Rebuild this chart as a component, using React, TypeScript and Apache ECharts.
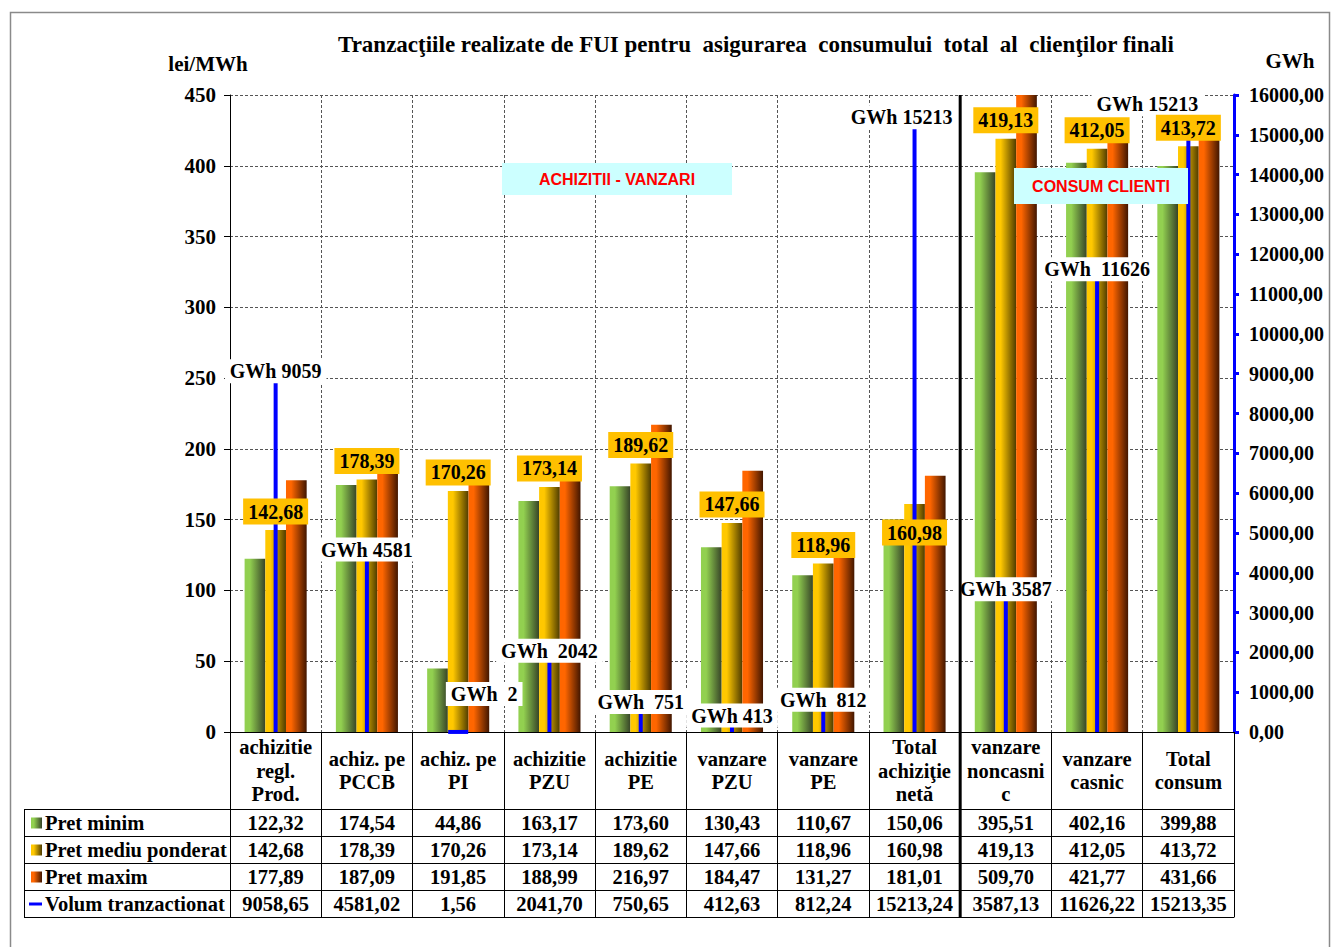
import React, { useEffect, useRef } from 'react';
import * as echarts from 'echarts';

const categories = [
  'achizitie\nregl.\nProd.',
  'achiz. pe\nPCCB',
  'achiz. pe\nPI',
  'achizitie\nPZU',
  'achizitie\nPE',
  'vanzare\nPZU',
  'vanzare\nPE',
  'Total\nachiziţie\nnetă',
  'vanzare\nnoncasni\nc',
  'vanzare\ncasnic',
  'Total\nconsum',
];
const pretMinim = [122.32, 174.54, 44.86, 163.17, 173.6, 130.43, 110.67, 150.06, 395.51, 402.16, 399.88];
const pretMediu = [142.68, 178.39, 170.26, 173.14, 189.62, 147.66, 118.96, 160.98, 419.13, 412.05, 413.72];
const pretMaxim = [177.89, 187.09, 191.85, 188.99, 216.97, 184.47, 131.27, 181.01, 509.7, 421.77, 431.66];
const volum = [9058.65, 4581.02, 1.56, 2041.7, 750.65, 412.63, 812.24, 15213.24, 3587.13, 11626.22, 15213.35];
const seriesNames = ['Pret minim', 'Pret mediu ponderat', 'Pret maxim', 'Volum tranzactionat'];
const leftTicks = { min: 0, max: 450, interval: 50 };
const rightTicks = { min: 0, max: 16000, interval: 1000 };

// layout-only arrays (label placement / spacing)
const volGapSpaces = [1, 1, 2, 2, 2, 1, 2, 1, 1, 2, 1];
const volLabelOffsets = [[0, 0], [0, 0], [26, -38], [0, 0], [0, 0], [0, 0], [0, 0], [-13, -9], [0, 0], [0, 0], [-41, -22]];
const priceLabelOffsets = [[0, 0], [0, 0], [0, 0], [0, 0], [0, 0], [0, 0], [0, 0], [0, 47], [0, 0], [0, 0], [0, 0]];

const SERIF = "'Liberation Serif', 'Times New Roman', serif";
const SANS = "'Liberation Sans', Arial, sans-serif";
const fmt = (v: number) => v.toFixed(2).replace('.', ',');

const W = 1331;
const H = 947;
const G = { left: 230, right: 97, top: 95, bottom: 215 };
const gridW = W - G.left - G.right;
const rowOffsets = [77, 104, 131, 158, 185];

const grad = (light: string, dark: string) =>
  new echarts.graphic.LinearGradient(0, 0, 1, 0, [
    { offset: 0, color: light },
    { offset: 0.25, color: light },
    { offset: 1, color: dark },
  ]);
const greenG = () => grad('#92d050', '#374428');
const yellowG = () => grad('#ffc800', '#4f3c00');
const orangeG = () => grad('#ff6600', '#421600');

export default function App() {
  const ref = useRef<HTMLDivElement>(null);
  useEffect(() => {
    const chart = echarts.init(ref.current!, null, { renderer: 'svg' });
    const textStyle = { fontFamily: SERIF, fontWeight: 'bold' as const, fontSize: 20, color: '#000' };
    const tableStyle = { ...textStyle, fontSize: 20.5 };

    const tableRows = [pretMinim, pretMediu, pretMaxim, volum];
    const rowAxes = tableRows.map((row, r) => ({
      type: 'category',
      data: categories,
      position: 'bottom',
      offset: rowOffsets[r],
      axisLine: { show: true, lineStyle: { color: '#000', width: 1 } },
      axisTick: { show: true, interval: 0, length: rowOffsets[r + 1] - rowOffsets[r], lineStyle: { color: '#000', width: 1 } },
      axisLabel: {
        ...tableStyle,
        interval: 0,
        margin: (rowOffsets[r + 1] - rowOffsets[r]) / 2 + 0.5,
        verticalAlign: 'middle',
        formatter: (_v: string, i: number) => fmt(row[i]),
      },
      splitLine: { show: false },
    }));

    const sepX = G.left + (8 * gridW) / 11;
    const tableLines = rowOffsets.map((o) => H - G.bottom + o);
    const keyFills = [greenG(), yellowG(), orangeG()];

    const graphics: any[] = [
      { type: 'rect', shape: { x: 10.5, y: 12.5, width: 1319, height: 945 }, style: { fill: 'none', stroke: '#8a8a8a', lineWidth: 1.5 }, z: 0 },
      { type: 'text', x: 208, y: 64, style: { text: 'lei/MWh', font: `bold 21px ${SERIF}`, fill: '#000', align: 'center', verticalAlign: 'middle' } },
      { type: 'text', x: 1290, y: 61, style: { text: 'GWh', font: `bold 21px ${SERIF}`, fill: '#000', align: 'center', verticalAlign: 'middle' } },
      { type: 'rect', z: 100, shape: { x: 502, y: 163, width: 230, height: 32 }, style: { fill: '#ccffff' } },
      { type: 'text', z: 101, x: 617, y: 179, style: { text: 'ACHIZITII - VANZARI', font: `bold 16px ${SANS}`, fill: '#ff0000', align: 'center', verticalAlign: 'middle' } },
      { type: 'rect', z: 100, shape: { x: 1014, y: 168, width: 174, height: 36 }, style: { fill: '#ccffff' } },
      { type: 'text', z: 101, x: 1101, y: 186, style: { text: 'CONSUM CLIENTI', font: `bold 16px ${SANS}`, fill: '#ff0000', align: 'center', verticalAlign: 'middle' } },
      { type: 'line', z: 50, shape: { x1: sepX, y1: G.top, x2: sepX, y2: tableLines[4] }, style: { stroke: '#000', lineWidth: 3 } },
      { type: 'line', shape: { x1: 24.5, y1: tableLines[0], x2: 24.5, y2: tableLines[4] }, style: { stroke: '#000', lineWidth: 1 } },
    ];
    tableLines.forEach((y) => {
      graphics.push({ type: 'line', shape: { x1: 24, y1: y + 0.5, x2: G.left, y2: y + 0.5 }, style: { stroke: '#000', lineWidth: 1 } });
    });
    seriesNames.forEach((name, i) => {
      const cy = (tableLines[i] + tableLines[i + 1]) / 2 + 0.5;
      if (i < 3) {
        graphics.push({ type: 'rect', shape: { x: 31, y: cy - 5.5, width: 11, height: 11 }, style: { fill: keyFills[i] } });
      } else {
        graphics.push({ type: 'rect', shape: { x: 29, y: cy - 1.5, width: 13, height: 3 }, style: { fill: '#0000ff' } });
      }
      graphics.push({ type: 'text', x: 45, y: cy, style: { text: name, font: `bold 20.5px ${SERIF}`, fill: '#000', align: 'left', verticalAlign: 'middle' } });
    });

    const option: any = {
      animation: false,
      backgroundColor: '#fff',
      title: {
        text: 'Tranzacţiile realizate de FUI pentru  asigurarea  consumului  total  al  clienţilor finali',
        left: 333,
        top: 28,
        textStyle: { fontFamily: SERIF, fontWeight: 'bold', fontSize: 23, color: '#000' },
      },
      grid: { ...G, containLabel: false },
      xAxis: [
        {
          type: 'category',
          data: categories,
          position: 'bottom',
          axisLine: { show: true, lineStyle: { color: '#000', width: 1 } },
          axisTick: { show: true, interval: 0, length: rowOffsets[0], lineStyle: { color: '#000', width: 1 } },
          axisLabel: { ...tableStyle, interval: 0, margin: rowOffsets[0] / 2, verticalAlign: 'middle', lineHeight: 23.5 },
          splitLine: { show: true, interval: 0, lineStyle: { color: '#555', type: [3, 2], width: 1 } },
        },
        { type: 'category', data: categories, show: false },
        ...rowAxes,
        {
          type: 'category',
          data: categories,
          position: 'bottom',
          offset: rowOffsets[4],
          axisLine: { show: true, lineStyle: { color: '#000', width: 1 } },
          axisTick: { show: false },
          axisLabel: { show: false },
          splitLine: { show: false },
        },
      ],
      yAxis: [
        {
          type: 'value',
          ...leftTicks,
          position: 'left',
          axisLine: { show: true, lineStyle: { color: '#000', width: 1 } },
          axisTick: { show: true, length: 6, lineStyle: { color: '#000' } },
          axisLabel: { ...textStyle, fontSize: 21, margin: 14 },
          splitLine: { show: true, lineStyle: { color: '#555', type: [3, 2], width: 1 } },
        },
        {
          type: 'value',
          ...rightTicks,
          position: 'right',
          axisLine: { show: true, lineStyle: { color: '#0000ff', width: 3 } },
          axisTick: { show: true, length: 5, lineStyle: { color: '#0000ff', width: 3 } },
          axisLabel: { ...textStyle, margin: 15, formatter: (v: number) => fmt(v) },
          splitLine: { show: false },
        },
      ],
      series: [
        { name: seriesNames[0], type: 'bar', xAxisIndex: 0, yAxisIndex: 0, data: pretMinim, barGap: '0%', barCategoryGap: '32%', itemStyle: { color: greenG() }, z: 2 },
        { name: seriesNames[1], type: 'bar', xAxisIndex: 0, yAxisIndex: 0, data: pretMediu, barGap: '0%', barCategoryGap: '32%', itemStyle: { color: yellowG() }, z: 2 },
        { name: seriesNames[2], type: 'bar', xAxisIndex: 0, yAxisIndex: 0, data: pretMaxim, barGap: '0%', barCategoryGap: '32%', itemStyle: { color: orangeG() }, z: 2 },
        { name: seriesNames[3], type: 'bar', xAxisIndex: 1, yAxisIndex: 1, data: volum, barWidth: 4, itemStyle: { color: '#0000ff', opacity: 1 }, z: 3 },
        {
          name: seriesNames[3] + ' labels',
          type: 'scatter',
          xAxisIndex: 1,
          yAxisIndex: 1,
          symbol: 'rect',
          symbolSize: [20, 4],
          itemStyle: { color: '#0000ff', opacity: 1 },
          z: 6,
          data: volum.map((v, i) => ({
            value: v,
            label: { offset: volLabelOffsets[i] },
          })),
          label: {
            show: true,
            position: 'inside',
            ...textStyle,
            opacity: 1,
            backgroundColor: '#fff',
            padding: [2, 5],
            formatter: (p: any) => 'GWh' + ' '.repeat(volGapSpaces[p.dataIndex]) + Math.round(volum[p.dataIndex]),
          },
        },
        {
          name: seriesNames[1] + ' labels',
          type: 'scatter',
          xAxisIndex: 0,
          yAxisIndex: 0,
          symbol: 'circle',
          symbolSize: 1,
          itemStyle: { color: 'rgba(0,0,0,0)', opacity: 1 },
          z: 7,
          data: pretMediu.map((v, i) => ({ value: v, label: { offset: priceLabelOffsets[i] } })),
          label: {
            show: true,
            position: 'top',
            distance: 5,
            ...textStyle,
            opacity: 1,
            backgroundColor: '#ffc000',
            padding: [3, 5],
            formatter: (p: any) => fmt(pretMediu[p.dataIndex]),
          },
        },
      ],
      graphic: graphics,
    };
    chart.setOption(option);
    return () => chart.dispose();
  }, []);
  return <div ref={ref} style={{ position: 'absolute', left: 0, top: 0, width: W, height: H, background: '#fff' }} />;
}
